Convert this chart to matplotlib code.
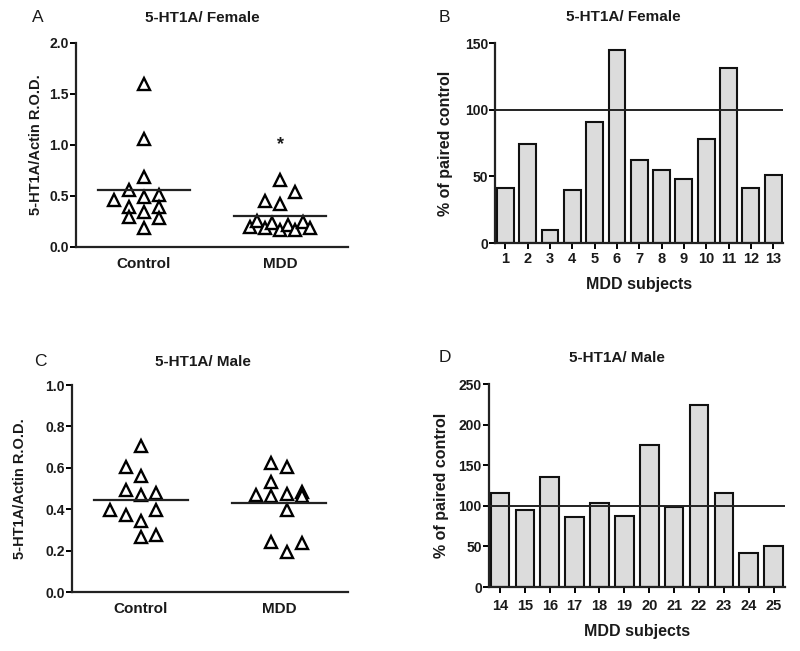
import matplotlib
matplotlib.use("Agg")
import matplotlib.pyplot as plt
import numpy as np

plt.rcParams['font.family'] = ['Liberation Sans', 'DejaVu Sans']
plt.rcParams['font.weight'] = 'bold'

# ---------------- data ----------------
groups = ["Control", "MDD"]

# Panel A: female R.O.D. values
female_control = [1.60, 1.056, 0.689, 0.559, 0.461, 0.493, 0.51, 0.395, 0.395, 0.297, 0.346, 0.281, 0.183]
female_mdd = [0.657, 0.539, 0.454, 0.42, 0.199, 0.258, 0.183, 0.232, 0.166, 0.216, 0.166, 0.248, 0.183]
female_sig_y = 1.0

# Panel B: female % of paired control
female_subjects = list(range(1, 14))
female_pct = [41, 74, 10, 40, 91, 145, 62, 55, 48, 78, 131, 41, 51]

# Panel C: male R.O.D. values
male_control = [0.705, 0.605, 0.561, 0.495, 0.468, 0.476, 0.395, 0.374, 0.395, 0.344, 0.266, 0.274]
male_mdd = [0.624, 0.605, 0.533, 0.469, 0.464, 0.473, 0.484, 0.465, 0.396, 0.242, 0.194, 0.239]

# Panel D: male % of paired control
male_subjects = list(range(14, 26))
male_pct = [116, 95, 135, 86, 103, 87, 175, 98, 224, 116, 42, 50]

reference_pct = 100

# swarm slot offsets (layout only)
fc_slot = [0, 0, 0, -1, -2, 0, 1, -1, 1, -1, 0, 1, 0]
fm_slot = [0, 1, -1, 0, -2, -1.5, -1, -0.5, 0, 0.5, 1, 1.5, 2]
mc_slot = [0, -1, 0, -1, 0, 1, -2, -1, 1, 0, 0, 1]
mm_slot = [-0.5, 0.5, -0.5, -1.5, -0.5, 0.5, 1.5, 1.5, 0.5, -0.5, 0.5, 1.5]

TXT = '#1a1a1a'
fig = plt.figure(figsize=(8, 6.51), dpi=100)

def style(ax):
    for s in ['top', 'right']:
        ax.spines[s].set_visible(False)
    for s in ['left', 'bottom']:
        ax.spines[s].set_linewidth(1.6)
        ax.spines[s].set_color('#222222')
    ax.tick_params(axis='y', direction='out', length=4, width=1.4, labelsize=10, pad=1,
                   labelcolor=TXT)
    for lab in ax.get_yticklabels():
        lab.set_fontweight('bold')

def scatter_panel(ax, ctrl, mdd, cslot, mslot, ylim, yticks, fmt, lpad):
    unit = 0.112
    for i, (vals, slots) in enumerate([(ctrl, cslot), (mdd, mslot)]):
        xc = i + 1
        xs = xc + np.array(slots) * unit
        ax.plot(xs, vals, linestyle='none', marker='^', markersize=8.5,
                markerfacecolor='white', markeredgecolor='black', markeredgewidth=1.7)
        m = np.mean(vals)
        ax.plot([xc - 0.34, xc + 0.34], [m, m], color='#222222', lw=1.6)
    ax.set_xlim(0.5, 2.5)
    ax.set_ylim(ylim)
    ax.set_yticks(yticks)
    ax.set_yticklabels([fmt.format(t) for t in yticks])
    ax.set_xticks([1, 2])
    ax.set_xticklabels(groups, fontsize=11, fontweight='bold', color=TXT)
    ax.tick_params(axis='x', length=0, pad=7)
    ax.set_ylabel("5-HT1A/Actin R.O.D.", fontsize=10.5, fontweight='bold', labelpad=lpad, color=TXT)
    style(ax)

def bar_panel(ax, subj, pct, ylim, yticks, lpad, tpad):
    ax.bar(subj, pct, width=0.75, color='#dcdcdc', edgecolor='#111111', linewidth=1.5, zorder=2)
    ax.axhline(reference_pct, color='#222222', lw=1.4, zorder=3)
    ax.set_xlim(subj[0] - 0.45, subj[-1] + 0.45)
    ax.set_ylim(ylim)
    ax.set_yticks(yticks)
    ax.set_xticks(subj)
    ax.set_xticklabels([str(s) for s in subj], fontsize=10.5, fontweight='bold', color=TXT)
    ax.tick_params(axis='x', direction='out', length=4, width=1.4, pad=tpad)
    ax.set_ylabel("% of paired control", fontsize=11.5, fontweight='bold', labelpad=lpad, color=TXT)
    ax.set_xlabel("MDD subjects", fontsize=11.5, fontweight='bold', labelpad=8, color=TXT)
    style(ax)

axA = fig.add_axes([0.095, 0.6206, 0.34, 0.3134])
scatter_panel(axA, female_control, female_mdd, fc_slot, fm_slot, (0, 2.0),
              [0.0, 0.5, 1.0, 1.5, 2.0], "{:.1f}", 5)
axA.text(2, female_sig_y, "*", ha='center', va='center', fontsize=13, fontweight='bold', color=TXT)

axB = fig.add_axes([0.619, 0.6267, 0.36, 0.3072])
bar_panel(axB, female_subjects, female_pct, (0, 150), [0, 50, 100, 150], 9, 2.5)

axC = fig.add_axes([0.09, 0.0906, 0.345, 0.318])
scatter_panel(axC, male_control, male_mdd, mc_slot, mm_slot, (0, 1.0),
              [0.0, 0.2, 0.4, 0.6, 0.8, 1.0], "{:.1f}", 13)

axD = fig.add_axes([0.611, 0.0983, 0.37, 0.3118])
bar_panel(axD, male_subjects, male_pct, (0, 250), [0, 50, 100, 150, 200, 250], 7, 4.5)

# titles and panel letters (figure coords from pixel positions)
def ftext(x, y, s, **kw):
    fig.text(x / 800, 1 - y / 651, s, color=TXT, **kw)

ftext(202, 18, "5-HT1A/ Female", ha='center', va='center', fontsize=11, fontweight='bold')
ftext(623, 17, "5-HT1A/ Female", ha='center', va='center', fontsize=11, fontweight='bold')
ftext(203, 362, "5-HT1A/ Male", ha='center', va='center', fontsize=11, fontweight='bold')
ftext(617, 358, "5-HT1A/ Male", ha='center', va='center', fontsize=11, fontweight='bold')
ftext(38, 17, "A", ha='center', va='center', fontsize=12.5, fontweight='normal')
ftext(444, 17, "B", ha='center', va='center', fontsize=12.5, fontweight='normal')
ftext(40, 362, "C", ha='center', va='center', fontsize=12.5, fontweight='normal')
ftext(445, 358, "D", ha='center', va='center', fontsize=12.5, fontweight='normal')

fig.savefig("out.png", dpi=100)
